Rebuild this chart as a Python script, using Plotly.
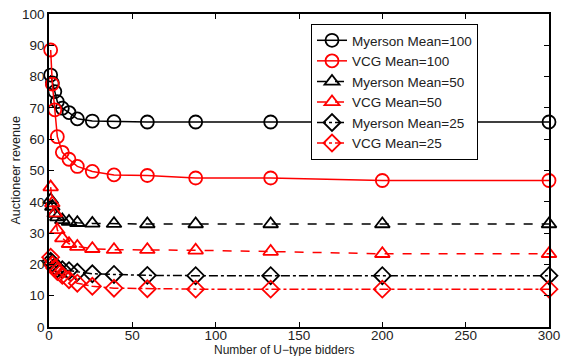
import plotly.graph_objects as go

x_bidders = [1, 2, 3.5, 5, 8, 12, 17, 26, 39, 59, 88, 133, 200, 300]

myerson_100 = [80.5, 78.0, 75.2, 72.0, 69.9, 68.5, 66.5, 65.8, 65.6, 65.5, 65.5, 65.5, 65.5, 65.5]
vcg_100 = [88.5, 77.6, 69.4, 60.8, 55.8, 53.6, 51.3, 49.7, 48.6, 48.4, 47.6, 47.6, 46.8, 46.8]
myerson_50 = [40.6, 38.5, 36.2, 35.1, 34.2, 33.7, 33.3, 33.1, 33.0, 32.9, 32.9, 32.9, 32.9, 32.9]
vcg_50 = [44.7, 39.6, 36.4, 31.0, 28.4, 26.6, 25.7, 25.0, 24.7, 24.7, 24.5, 24.1, 23.4, 23.4]
myerson_25 = [21.0, 20.4, 19.3, 18.6, 18.3, 18.0, 17.5, 17.0, 16.8, 16.5, 16.4, 16.4, 16.4, 16.4]
vcg_25 = [22.3, 19.9, 18.8, 17.7, 16.5, 15.1, 14.0, 13.0, 12.4, 12.2, 12.1, 12.1, 12.1, 12.1]

series_names = ["Myerson Mean=100", "VCG Mean=100", "Myerson Mean=50",
                "VCG Mean=50", "Myerson Mean=25", "VCG Mean=25"]
series_values = [myerson_100, vcg_100, myerson_50, vcg_50, myerson_25, vcg_25]
series_colors = ["black", "red", "black", "red", "black", "red"]
series_symbols = ["circle-open", "circle-open", "triangle-up-open", "triangle-up-open",
                  "diamond-open", "diamond-open"]
series_dash = ["solid", "solid", "dash", "dash", "dashdot", "dashdot"]

x_ticks = [0, 50, 100, 150, 200, 250, 300]
y_ticks = [0, 10, 20, 30, 40, 50, 60, 70, 80, 90, 100]

x_title = "Number of U\u2212type bidders"
y_title = "Auctioneer revenue"

fig = go.Figure()
for name, vals, col, sym, dash in zip(series_names, series_values, series_colors,
                                      series_symbols, series_dash):
    fig.add_trace(go.Scatter(
        x=x_bidders, y=vals, name=name, mode="lines+markers",
        line=dict(color=col, width=1.5, dash=dash),
        marker=dict(symbol=sym, size=13, color=col, line=dict(width=1.8, color=col)),
        cliponaxis=False,
    ))

font_family = "Liberation Sans, Arial, sans-serif"
fig.update_layout(
    width=561, height=356,
    margin=dict(l=49, r=12, t=14, b=29),
    paper_bgcolor="white", plot_bgcolor="white",
    font=dict(family=font_family, size=13, color="#222"),
    showlegend=True,
    legend=dict(
        x=0.524, y=0.968, xanchor="left", yanchor="top",
        bgcolor="white", bordercolor="black", borderwidth=1,
        font=dict(size=13.5, color="#222"),
        itemwidth=30, tracegroupgap=0,
    ),
    xaxis=dict(
        range=[0, 300], tickvals=x_ticks, ticks="inside", ticklen=5,
        tickcolor="black", showline=True, linecolor="black", linewidth=1.5,
        mirror="allticks", showgrid=False, zeroline=False, automargin=False,
        ticklabeloverflow="allow", ticklabelstandoff=-5,
        tickfont=dict(size=13.5),
    ),
    yaxis=dict(
        range=[0, 100], tickvals=y_ticks, ticks="inside", ticklen=5,
        tickcolor="black", showline=True, linecolor="black", linewidth=1.5,
        mirror="allticks", showgrid=False, zeroline=False, automargin=False,
        ticklabeloverflow="allow",
        tickfont=dict(size=13.5),
    ),
    annotations=[
        dict(text=x_title, xref="paper", yref="paper", x=0.47, y=-0.072,
             xanchor="center", yanchor="middle", showarrow=False,
             font=dict(size=12, color="#222")),
        dict(text=y_title, xref="paper", yref="paper", x=-0.068, y=0.5,
             xanchor="center", yanchor="middle", showarrow=False, textangle=-90,
             font=dict(size=12.5, color="#222")),
    ],
)

fig.write_html(
    "out.html",
    config={"displayModeBar": False},
    post_script="document.body.style.margin='0';document.body.style.overflow='hidden';",
)
